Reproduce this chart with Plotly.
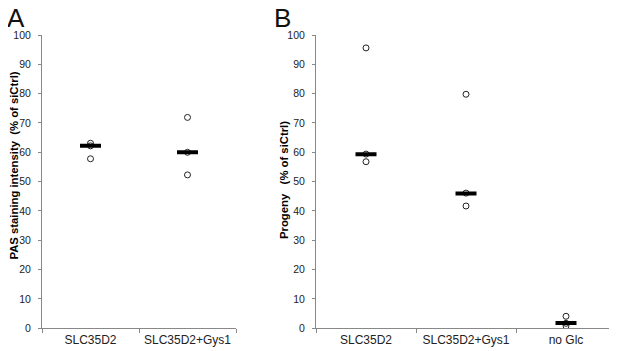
import plotly.graph_objects as go

# Panel A data
cats_a = ["SLC35D2", "SLC35D2+Gys1"]
pts_a_x = ["SLC35D2", "SLC35D2", "SLC35D2", "SLC35D2+Gys1", "SLC35D2+Gys1", "SLC35D2+Gys1"]
pts_a_y = [63.1, 62.2, 57.8, 71.9, 60.0, 52.3]
med_a = [62.2, 60.0]
title_a = "PAS staining intensity  (% of siCtrl)"

# Panel B data
cats_b = ["SLC35D2", "SLC35D2+Gys1", "no Glc"]
pts_b_x = ["SLC35D2", "SLC35D2", "SLC35D2", "SLC35D2+Gys1", "SLC35D2+Gys1", "SLC35D2+Gys1",
           "no Glc", "no Glc", "no Glc"]
pts_b_y = [95.6, 59.4, 56.8, 79.8, 46.1, 41.7, 4.1, 1.7, 0.8]
med_b = [59.3, 46.0, 1.8]
title_b = "Progeny   (% of siCtrl)"

y_ticks = list(range(0, 101, 10))

fig = go.Figure()

circle = dict(symbol="circle-open", size=6, color="#222", line=dict(width=1, color="#222"))
bar = dict(symbol="line-ew", size=15, line=dict(width=4, color="black"))

fig.add_trace(go.Scatter(x=pts_a_x, y=pts_a_y, mode="markers", marker=circle,
                         xaxis="x", yaxis="y", showlegend=False))
fig.add_trace(go.Scatter(x=cats_a, y=med_a, mode="markers", marker=bar,
                         xaxis="x", yaxis="y", showlegend=False))
fig.add_trace(go.Scatter(x=pts_b_x, y=pts_b_y, mode="markers", marker=circle,
                         xaxis="x2", yaxis="y2", showlegend=False))
fig.add_trace(go.Scatter(x=cats_b, y=med_b, mode="markers", marker=bar,
                         xaxis="x2", yaxis="y2", showlegend=False))

# the page body adds an 8px margin, so the figure is drawn 8px smaller and shifted
OFF = 8
W = 617 - OFF
H = 351 - OFF
yd = [(H - (328.3 - OFF)) / H, (H - (35 - OFF)) / H]
xfont = dict(family="Liberation Sans, Arial", size=12, color="#222")
yfont = dict(family="Liberation Sans, Arial", size=10.5, color="#222")
titlefont = dict(family="Liberation Sans, Arial", size=11.3, color="#000")
letterfont = dict(family="Liberation Sans, Arial", size=26, color="#111")

xcommon = dict(showline=True, linecolor="#888", linewidth=1, ticks="outside", tickson="boundaries",
               ticklen=4, tickcolor="#888", showgrid=False, zeroline=False, tickfont=xfont,
               fixedrange=True, automargin=False, tickangle=0)
ycommon = dict(range=[0, 100], tickvals=y_ticks, showline=True, linecolor="#888", linewidth=1,
               ticks="outside", ticklen=3, tickcolor="#888", showgrid=False, zeroline=False,
               tickfont=yfont, ticklabelstandoff=5, automargin=False)

fig.update_layout(
    width=W, height=H,
    margin=dict(l=0, r=0, t=0, b=0, autoexpand=False),
    plot_bgcolor="white", paper_bgcolor="white",
    xaxis=dict(domain=[(42 - OFF) / W, (236 - OFF) / W], anchor="y", categoryorder="array",
               categoryarray=cats_a, range=[-0.5, 1.5], **xcommon),
    yaxis=dict(domain=yd, anchor="x", **ycommon),
    xaxis2=dict(domain=[(316 - OFF) / W, (616 - OFF) / W], anchor="y2", categoryorder="array",
                categoryarray=cats_b, range=[-0.5, 2.5], **xcommon),
    yaxis2=dict(domain=yd, anchor="x2", **ycommon),
    annotations=[
        dict(text="<b>" + title_a + "</b>", textangle=-90, x=5.5 / W, y=1 - (166 - OFF) / H,
             xref="paper", yref="paper", xanchor="center", yanchor="middle",
             showarrow=False, font=titlefont),
        dict(text="<b>" + title_b + "</b>", textangle=-90, x=(284 - OFF) / W,
             y=1 - (180 - OFF) / H,
             xref="paper", yref="paper", xanchor="center", yanchor="middle",
             showarrow=False, font=titlefont),
        dict(text="A", x=-2 / W, y=1 + 6 / H, xref="paper", yref="paper", xanchor="left",
             yanchor="top", showarrow=False, borderpad=0, font=letterfont),
        dict(text="B", x=(273 - OFF) / W, y=1 + 6 / H, xref="paper", yref="paper",
             xanchor="left", yanchor="top", showarrow=False, borderpad=0, font=letterfont),
    ],
)

fig.write_html("out.html")
